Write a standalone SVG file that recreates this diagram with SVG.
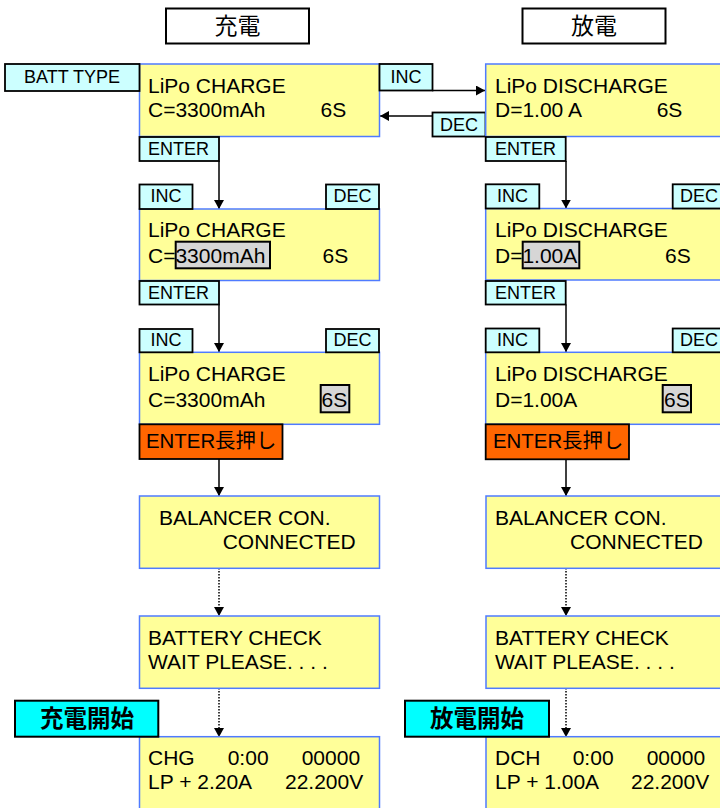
<svg xmlns="http://www.w3.org/2000/svg" width="720" height="808" viewBox="0 0 720 808">
<defs>
<style>
.lcd{fill:#FFFF99;stroke:#4F7BFF;stroke-width:1.5}
.lbl{fill:#CCFFFF;stroke:#000;stroke-width:1.8}
.hl{fill:#D6D6D6;stroke:#000;stroke-width:2}
.org{fill:#FF6600;stroke:#000;stroke-width:1.8}
.cyan{fill:#00FFFF;stroke:#000;stroke-width:2}
.ttl{fill:#FFFFFF;stroke:#000;stroke-width:2}
text{font-family:"Liberation Sans","Noto Sans CJK JP",sans-serif;fill:#000}
.t{font-size:21px}
.l{font-size:18px}
.lc{font-size:18px;text-anchor:middle}
.j{font-size:23px;text-anchor:middle}
.jb{font-size:23.5px;text-anchor:middle;font-weight:bold}
.c{fill:none;stroke:#000;stroke-width:1.5}
.d{fill:none;stroke:#000;stroke-width:1.5;stroke-dasharray:1.5 1.5}
</style>
<marker id="ah" viewBox="0 0 9 10" markerWidth="9" markerHeight="10" refX="9" refY="5" orient="auto" markerUnits="userSpaceOnUse">
<path d="M0,0 L9,5 L0,10 z" fill="#000"/>
</marker>
</defs>

<!-- titles -->
<g id="title-charge"><rect class="ttl" x="166" y="8.5" width="143" height="35"/><text class="j" x="237.5" y="33.5">充電</text></g>
<g id="title-discharge"><rect class="ttl" x="522.5" y="8.5" width="143" height="35"/><text class="j" x="594" y="33.5">放電</text></g>

<!-- connectors -->
<g id="connectors">
<path class="c" d="M432,90.5 H485" marker-end="url(#ah)"/>
<path class="c" d="M432,116 H380" marker-end="url(#ah)"/>
<path class="c" d="M219,161 V209" marker-end="url(#ah)"/>
<path class="c" d="M219,304.5 V352" marker-end="url(#ah)"/>
<path class="c" d="M219,459 V496" marker-end="url(#ah)"/>
<path class="d" d="M219,568 V616" marker-end="url(#ah)"/>
<path class="d" d="M219,688 V737" marker-end="url(#ah)"/>
<path class="c" d="M566,161 V208.5" marker-end="url(#ah)"/>
<path class="c" d="M566,304.5 V352" marker-end="url(#ah)"/>
<path class="c" d="M566,459 V496" marker-end="url(#ah)"/>
<path class="d" d="M566,568 V616" marker-end="url(#ah)"/>
<path class="d" d="M566,688 V737" marker-end="url(#ah)"/>
</g>

<!-- left column -->
<g id="chg1">
<rect class="lcd" x="139.5" y="64" width="240" height="72.5"/>
<text class="t" x="148" y="92.7">LiPo CHARGE</text>
<text class="t" x="148" y="117.3">C=3300mAh</text>
<text class="t" x="320.5" y="117.3">6S</text>
</g>
<g id="batt-type"><rect class="lbl" x="5" y="64" width="134.5" height="27"/><text class="lc" x="72" y="82.7">BATT TYPE</text></g>
<g id="inc-top"><rect class="lbl" x="379.5" y="64" width="53" height="26.5"/><text class="lc" x="406" y="82.7">INC</text></g>
<g id="dec-top"><rect class="lbl" x="432.5" y="112.5" width="53" height="24"/><text class="lc" x="459" y="130.5">DEC</text></g>
<g id="enter-l1"><rect class="lbl" x="139.5" y="137" width="79.5" height="24"/><text class="l" x="148" y="155">ENTER</text></g>

<g id="chg2">
<rect class="lcd" x="139.5" y="209" width="240" height="71.5"/>
<rect class="hl" x="175.7" y="241.7" width="94.3" height="26.6"/>
<text class="t" x="148" y="237">LiPo CHARGE</text>
<text class="t" x="148" y="263.3">C=3300mAh</text>
<text class="t" x="322.5" y="263.3">6S</text>
</g>
<g id="inc-l2"><rect class="lbl" x="139.5" y="184.5" width="53" height="24.5"/><text class="lc" x="166" y="202.3">INC</text></g>
<g id="dec-l2"><rect class="lbl" x="326" y="184.5" width="53" height="24.5"/><text class="lc" x="352.5" y="202.3">DEC</text></g>
<g id="enter-l2"><rect class="lbl" x="139.5" y="281" width="79.5" height="23.5"/><text class="l" x="148" y="298.5">ENTER</text></g>

<g id="chg3">
<rect class="lcd" x="139.5" y="352.3" width="240" height="72"/>
<rect class="hl" x="320.7" y="385" width="28.6" height="27.3"/>
<text class="t" x="148" y="380.7">LiPo CHARGE</text>
<text class="t" x="148" y="406.7">C=3300mAh</text>
<text class="t" x="321.5" y="406.7">6S</text>
</g>
<g id="inc-l3"><rect class="lbl" x="139.5" y="329" width="53" height="23.3"/><text class="lc" x="166" y="346">INC</text></g>
<g id="dec-l3"><rect class="lbl" x="326" y="329" width="53" height="23.3"/><text class="lc" x="352.5" y="346">DEC</text></g>
<g id="enter-long-l"><rect class="org" x="139.5" y="424.3" width="143" height="34.7"/><text style="font-size:20.4px" x="146" y="447.7">ENTER長押し</text></g>

<g id="bal-l">
<rect class="lcd" x="139.5" y="496" width="240" height="72.3"/>
<text class="t" x="159" y="525">BALANCER CON.</text>
<text class="t" x="222.7" y="549">CONNECTED</text>
</g>
<g id="bchk-l">
<rect class="lcd" x="139.5" y="616" width="240" height="72.3"/>
<text class="t" x="148" y="645">BATTERY CHECK</text>
<text class="t" x="148" y="668.5">WAIT PLEASE. . . .</text>
</g>
<g id="run-l">
<rect class="lcd" x="139.5" y="736.7" width="240" height="80"/>
<text class="t" x="148" y="765">CHG</text>
<text class="t" x="227.7" y="765">0:00</text>
<text class="t" x="301.7" y="765">00000</text>
<text class="t" x="148" y="788.5">LP + 2.20A</text>
<text class="t" x="285" y="788.5">22.200V</text>
</g>
<g id="start-chg"><rect class="cyan" x="15" y="700.7" width="143.3" height="36"/><text class="jb" x="87" y="727">充電開始</text></g>

<!-- right column -->
<g id="dch1">
<rect class="lcd" x="485.7" y="64" width="240" height="72.5"/>
<text class="t" x="495" y="92.7">LiPo DISCHARGE</text>
<text class="t" x="495" y="117.3">D=1.00 A</text>
<text class="t" x="656.7" y="117.3">6S</text>
</g>
<g id="enter-r1"><rect class="lbl" x="485.7" y="137" width="80" height="24"/><text class="l" x="495" y="155">ENTER</text></g>

<g id="dch2">
<rect class="lcd" x="485.7" y="208.5" width="240" height="71.5"/>
<rect class="hl" x="522.7" y="241.7" width="56.6" height="26.6"/>
<text class="t" x="495" y="237">LiPo DISCHARGE</text>
<text class="t" x="495" y="263.3">D=1.00A</text>
<text class="t" x="665" y="263.3">6S</text>
</g>
<g id="inc-r2"><rect class="lbl" x="485.7" y="184.3" width="53.6" height="24.2"/><text class="lc" x="512.5" y="202.3">INC</text></g>
<g id="dec-r2"><rect class="lbl" x="672.7" y="184.3" width="53" height="24.2"/><text class="lc" x="699" y="202.3">DEC</text></g>
<g id="enter-r2"><rect class="lbl" x="485.7" y="281" width="80" height="23.5"/><text class="l" x="495" y="298.5">ENTER</text></g>

<g id="dch3">
<rect class="lcd" x="485.7" y="352.3" width="240" height="72"/>
<rect class="hl" x="662.7" y="385" width="28.3" height="27.3"/>
<text class="t" x="495" y="380.7">LiPo DISCHARGE</text>
<text class="t" x="495" y="406.7">D=1.00A</text>
<text class="t" x="664" y="406.7">6S</text>
</g>
<g id="inc-r3"><rect class="lbl" x="485.7" y="328.5" width="53.6" height="23.8"/><text class="lc" x="512.5" y="346">INC</text></g>
<g id="dec-r3"><rect class="lbl" x="672.7" y="328.5" width="53" height="23.8"/><text class="lc" x="699" y="346">DEC</text></g>
<g id="enter-long-r"><rect class="org" x="485.7" y="424.3" width="143.3" height="35"/><text style="font-size:20.4px" x="493" y="447.7">ENTER長押し</text></g>

<g id="bal-r">
<rect class="lcd" x="486" y="496" width="240" height="72.3"/>
<text class="t" x="495" y="525">BALANCER CON.</text>
<text class="t" x="570" y="549">CONNECTED</text>
</g>
<g id="bchk-r">
<rect class="lcd" x="486" y="616" width="240" height="72.3"/>
<text class="t" x="495" y="645">BATTERY CHECK</text>
<text class="t" x="495" y="668.5">WAIT PLEASE. . . .</text>
</g>
<g id="run-r">
<rect class="lcd" x="486" y="736.7" width="240" height="80"/>
<text class="t" x="495" y="765">DCH</text>
<text class="t" x="572.7" y="765">0:00</text>
<text class="t" x="646.7" y="765">00000</text>
<text class="t" x="495" y="788.5">LP + 1.00A</text>
<text class="t" x="631" y="788.5">22.200V</text>
</g>
<g id="start-dch"><rect class="cyan" x="405" y="700.7" width="144" height="36"/><text class="jb" x="477" y="727">放電開始</text></g>
</svg>
